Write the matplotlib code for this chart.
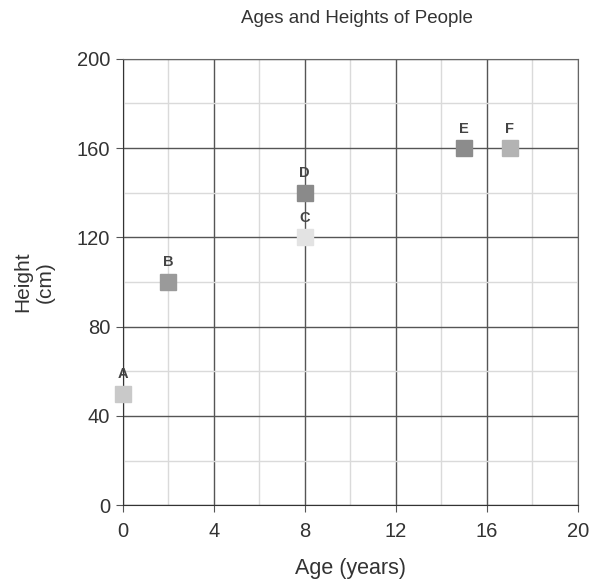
import matplotlib
matplotlib.use("Agg")
import matplotlib.pyplot as plt
from matplotlib.ticker import MultipleLocator

plt.rcParams['font.family'] = ['Liberation Sans', 'DejaVu Sans']

# datos
personas = ["A", "B", "C", "D", "E", "F"]
edades = [0, 2, 8, 8, 15, 17]
alturas = [50, 100, 120, 140, 160, 160]
colores = ["#c9c9c9", "#9a9a9a", "#e3e3e3", "#8a8a8a", "#8c8c8c", "#b3b3b3"]

fig = plt.figure(figsize=(6.05, 5.82), dpi=100)
ax = fig.add_axes([0.203, 0.132, 0.752, 0.767])

ax.set_xlim(0, 20)
ax.set_ylim(0, 200)
ax.xaxis.set_major_locator(MultipleLocator(4))
ax.xaxis.set_minor_locator(MultipleLocator(2))
ax.yaxis.set_major_locator(MultipleLocator(40))
ax.yaxis.set_minor_locator(MultipleLocator(20))

ax.grid(which="major", color="#555555", linewidth=1.0)
ax.grid(which="minor", color="#dadada", linewidth=1.0)
ax.set_axisbelow(True)

for s in ax.spines.values():
    s.set_color("#666666")
ax.spines["left"].set_color("#333333")
ax.spines["bottom"].set_color("#333333")

ax.tick_params(which="major", length=5, color="#555555", labelsize=14.5,
               labelcolor="#333333")
ax.tick_params(axis="x", pad=7)
ax.tick_params(axis="y", pad=4)
ax.tick_params(which="minor", length=0)

for nombre, x, y, c in zip(personas, edades, alturas, colores):
    ax.plot(x, y, marker="s", markersize=11, color=c, linestyle="none",
            clip_on=False, zorder=3)
    ax.annotate(nombre, (x, y), xytext=(0, 9), textcoords="offset points",
                ha="center", va="bottom", fontsize=10.5, color="#444444",
                fontweight="bold", annotation_clip=False)

ax.set_xlabel("Age (years)", fontsize=15.5, color="#333333", labelpad=12)
ax.set_ylabel("Height\n(cm)", fontsize=15, color="#333333", labelpad=16,
              linespacing=1.25)
ax.set_title("Ages and Heights of People", fontsize=13.5, color="#333333",
             pad=26, x=0.515)

plt.savefig("out.png", dpi=100)
